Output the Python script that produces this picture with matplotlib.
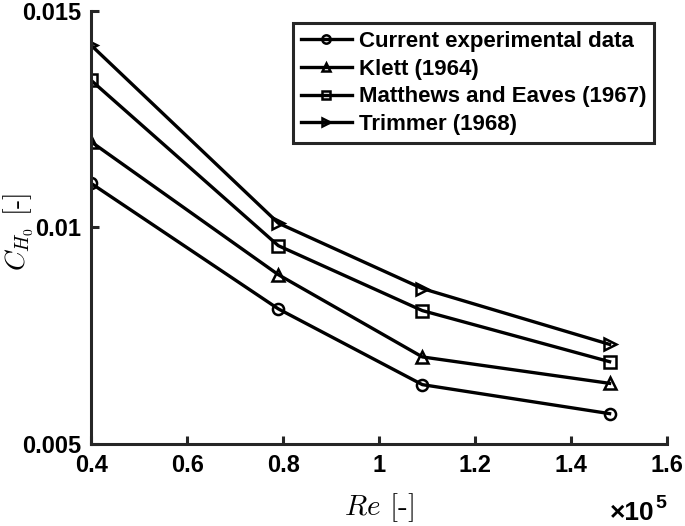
import numpy as np
import matplotlib
matplotlib.use('Agg')
import matplotlib.pyplot as plt

# Re in units of 1e5
re = [0.4, 0.79, 1.09, 1.48]

current = [0.01102, 0.00812, 0.00637, 0.00570]
klett = [0.01198, 0.00891, 0.00701, 0.00640]
matthews = [0.01340, 0.00958, 0.00808, 0.00690]
trimmer = [0.01421, 0.01010, 0.00859, 0.00730]

series = [
    ('Current experimental data', current, 'o'),
    ('Klett (1964)', klett, '^'),
    ('Matthews and Eaves (1967)', matthews, 's'),
    ('Trimmer (1968)', trimmer, '>'),
]

plt.rcParams['font.family'] = ['Liberation Sans', 'DejaVu Sans']
plt.rcParams['font.weight'] = 'bold'
plt.rcParams['mathtext.fontset'] = 'cm'

fig = plt.figure(figsize=(6.85, 5.26), dpi=100)
ax = fig.add_axes([0.133, 0.156, 0.841, 0.823])

for name, vals, mk in series:
    ax.plot(re, vals, color='black', lw=2.4, marker=mk, ms=8,
            mfc='none', mec='black', mew=1.8, label=name)

ax.set_xlim(0.4, 1.6)
ax.set_ylim(0.005, 0.015)
ax.set_xticks([0.4, 0.6, 0.8, 1.0, 1.2, 1.4, 1.6])
ax.set_xticklabels(['0.4', '0.6', '0.8', '1', '1.2', '1.4', '1.6'])
ax.set_yticks([0.005, 0.01, 0.015])
ax.set_yticklabels(['0.005', '0.01', '0.015'])

for s in ['top', 'right']:
    ax.spines[s].set_visible(False)
for s in ['left', 'bottom']:
    ax.spines[s].set_linewidth(2.2)
    ax.spines[s].set_color('#262626')

ax.tick_params(direction='in', length=6, width=2.2, color='#262626',
               labelsize=17, pad=7)
for lab in ax.get_xticklabels() + ax.get_yticklabels():
    lab.set_fontweight('bold')

ax.set_xlabel(r'$Re$ [-]', fontsize=21, family='cmr10', fontweight='normal')
ax.xaxis.set_label_coords(0.5, -0.108)
ax.set_ylabel(r'$C_{H_0}$ [-]', fontsize=20, family='cmr10', fontweight='normal')
ax.yaxis.set_label_coords(-0.097, 0.49)

fig.text(0.890, 0.011, '×10', ha='left', va='baseline', fontsize=19,
         fontweight='bold')
fig.text(0.957, 0.059, '5', ha='left', va='top', fontsize=14,
         fontweight='bold')

leg = ax.legend(loc='upper right', bbox_to_anchor=(0.977, 0.972),
                fontsize=16, handlelength=2.3, handletextpad=0.3,
                borderpad=0.35, labelspacing=0.3, fancybox=False,
                framealpha=1, markerscale=0.75, borderaxespad=0)
leg.get_frame().set_edgecolor('#262626')
leg.get_frame().set_linewidth(2.2)
for t in leg.get_texts():
    t.set_fontweight('bold')

fig.savefig('out.png', dpi=100)
